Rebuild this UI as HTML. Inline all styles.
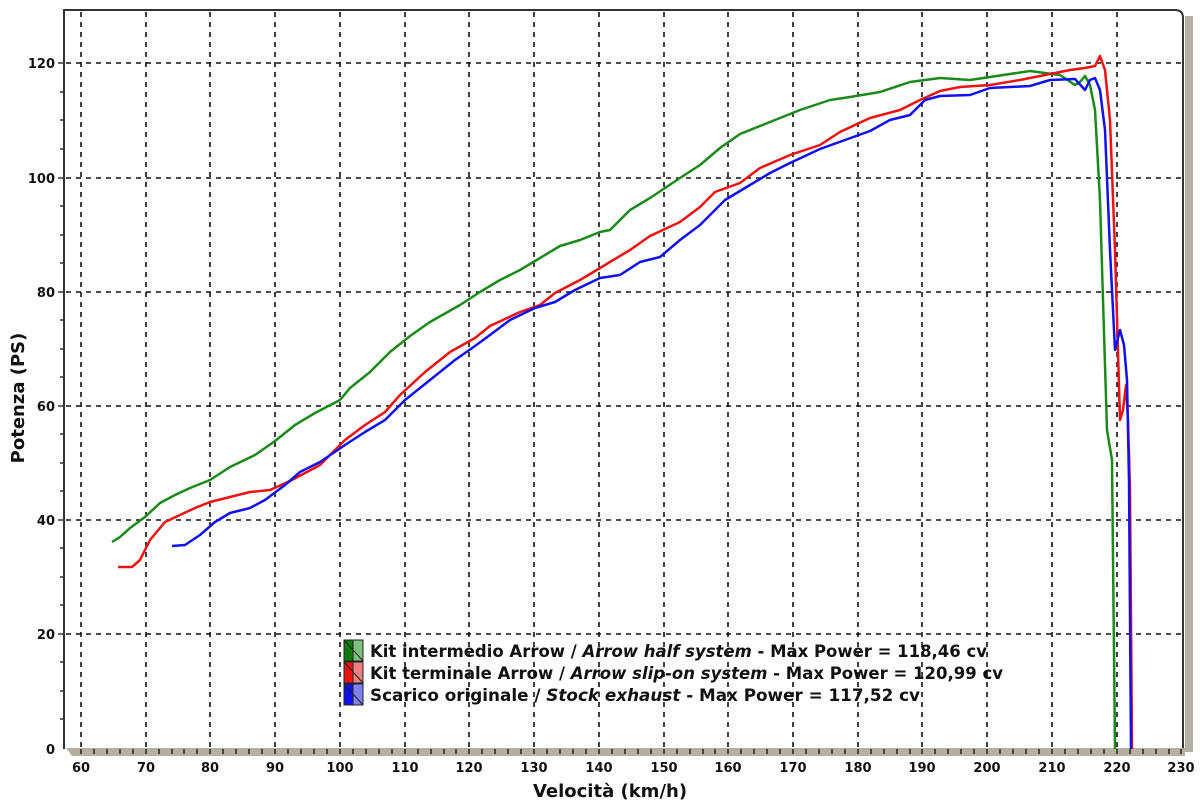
<!DOCTYPE html>
<html><head><meta charset="utf-8"><style>
body{margin:0;background:#fff;}
svg{display:block;font-family:"DejaVu Sans","Liberation Sans",sans-serif;}
</style></head><body>
<svg width="1200" height="807" viewBox="0 0 1200 807">
<rect x="1185" y="16" width="8" height="736" fill="#b5b0a3"/>
<path d="M64 749 L64 10 L1175 10 Q1183 10 1183 18 L1183 749" fill="#fff" stroke="#333" stroke-width="2"/>
<polygon points="66,748 1185,748 1185,756 72,756" fill="#b5b0a3"/>
<g stroke="#111" stroke-width="1.6" stroke-dasharray="5,5" fill="none">
<line x1="81" y1="12" x2="81" y2="748"/><line x1="146" y1="12" x2="146" y2="748"/><line x1="210" y1="12" x2="210" y2="748"/><line x1="275" y1="12" x2="275" y2="748"/><line x1="340" y1="12" x2="340" y2="748"/><line x1="405" y1="12" x2="405" y2="748"/><line x1="469" y1="12" x2="469" y2="748"/><line x1="534" y1="12" x2="534" y2="748"/><line x1="599" y1="12" x2="599" y2="748"/><line x1="664" y1="12" x2="664" y2="748"/><line x1="728" y1="12" x2="728" y2="748"/><line x1="793" y1="12" x2="793" y2="748"/><line x1="858" y1="12" x2="858" y2="748"/><line x1="922" y1="12" x2="922" y2="748"/><line x1="987" y1="12" x2="987" y2="748"/><line x1="1052" y1="12" x2="1052" y2="748"/><line x1="1117" y1="12" x2="1117" y2="748"/>
<line x1="66" y1="63" x2="1182" y2="63"/><line x1="66" y1="178" x2="1182" y2="178"/><line x1="66" y1="292" x2="1182" y2="292"/><line x1="66" y1="406" x2="1182" y2="406"/><line x1="66" y1="520" x2="1182" y2="520"/><line x1="66" y1="634" x2="1182" y2="634"/>
</g>
<g stroke="#333" stroke-width="1.5">
<line x1="58" y1="63" x2="64" y2="63"/><line x1="58" y1="178" x2="64" y2="178"/><line x1="58" y1="292" x2="64" y2="292"/><line x1="58" y1="406" x2="64" y2="406"/><line x1="58" y1="520" x2="64" y2="520"/><line x1="58" y1="634" x2="64" y2="634"/>
<line x1="60" y1="92" x2="64" y2="92"/><line x1="60" y1="120" x2="64" y2="120"/><line x1="60" y1="149" x2="64" y2="149"/><line x1="60" y1="206" x2="64" y2="206"/><line x1="60" y1="235" x2="64" y2="235"/><line x1="60" y1="263" x2="64" y2="263"/><line x1="60" y1="320" x2="64" y2="320"/><line x1="60" y1="349" x2="64" y2="349"/><line x1="60" y1="377" x2="64" y2="377"/><line x1="60" y1="434" x2="64" y2="434"/><line x1="60" y1="463" x2="64" y2="463"/><line x1="60" y1="491" x2="64" y2="491"/><line x1="60" y1="548" x2="64" y2="548"/><line x1="60" y1="577" x2="64" y2="577"/><line x1="60" y1="605" x2="64" y2="605"/><line x1="60" y1="662" x2="64" y2="662"/><line x1="60" y1="691" x2="64" y2="691"/><line x1="60" y1="719" x2="64" y2="719"/>
</g>
<g font-size="13" font-weight="bold" fill="#111" text-anchor="end">
<text x="55" y="68">120</text><text x="55" y="183">100</text><text x="55" y="297">80</text><text x="55" y="411">60</text><text x="55" y="525">40</text><text x="55" y="639">20</text><text x="55" y="754">0</text>
</g>
<g font-size="13" font-weight="bold" fill="#111" text-anchor="middle">
<text x="81" y="772">60</text><text x="146" y="772">70</text><text x="210" y="772">80</text><text x="275" y="772">90</text><text x="340" y="772">100</text><text x="405" y="772">110</text><text x="469" y="772">120</text><text x="534" y="772">130</text><text x="599" y="772">140</text><text x="664" y="772">150</text><text x="728" y="772">160</text><text x="793" y="772">170</text><text x="858" y="772">180</text><text x="922" y="772">190</text><text x="987" y="772">200</text><text x="1052" y="772">210</text><text x="1117" y="772">220</text><text x="1181" y="772">230</text>
</g>
<text x="610" y="797" font-size="18" font-weight="bold" text-anchor="middle" fill="#111">Velocità (km/h)</text>
<text transform="translate(24,398) rotate(-90)" font-size="18" font-weight="bold" text-anchor="middle" fill="#111">Potenza (PS)</text>
<g fill="none" stroke-width="2.5" stroke-linejoin="round">
<polyline stroke="#1a8a1a" points="112,542 120,537 130,528 145,517 160,503 175,495 190,488 210,480 230,467 255,455 275,441 295,425 315,413 340,400 350,388 370,372 390,352 410,336 430,322 460,305 480,292 500,280 520,270 540,258 560,246 580,240 600,232 610,230 630,210 650,198 680,178 700,165 720,148 740,134 770,122 800,110 830,100 850,97 880,92 910,82 940,78 970,80 990,77 1030,71 1060,75 1075,85 1080,82 1085,76 1090,85 1095,110 1100,200 1103,300 1107,430 1112,460 1115,749"/>
<polyline stroke="#ee1111" points="118,567 132,567 140,560 150,540 165,522 180,515 195,508 210,502 230,497 250,492 270,490 290,481 320,465 345,440 365,425 385,412 400,395 425,372 450,352 475,338 490,326 520,312 540,305 555,293 580,280 600,268 630,250 650,236 680,222 700,207 715,192 740,183 760,168 790,155 820,145 840,132 870,118 900,110 920,100 940,91 960,87 990,85 1020,80 1050,74 1070,70 1085,68 1095,66 1100,56 1105,70 1110,120 1115,250 1120,420 1123,410 1126,385 1128,420 1130,490 1132,749"/>
<polyline stroke="#1111ee" points="172,546 185,545 200,535 215,522 230,513 250,508 265,500 285,485 300,472 320,462 345,445 365,432 385,420 405,400 430,380 455,360 475,346 490,335 510,320 535,308 555,302 575,290 600,278 620,275 640,262 660,257 680,240 700,225 725,200 745,188 770,173 790,163 820,149 845,140 870,131 890,120 910,115 925,100 940,96 970,95 990,88 1030,86 1050,80 1075,79 1085,90 1090,80 1095,78 1100,90 1105,130 1110,250 1115,350 1120,330 1124,345 1127,380 1129,480 1131,749"/>
</g>
<g stroke="#222" stroke-width="1">
<rect x="344" y="640" width="9" height="21" fill="#0a7a0a"/><rect x="353" y="640" width="10" height="21" fill="#7fc07f"/><line x1="344" y1="640" x2="363" y2="661"/>
<rect x="344" y="662" width="9" height="21" fill="#ee1111"/><rect x="353" y="662" width="10" height="21" fill="#f08080"/><line x1="344" y1="662" x2="363" y2="683"/>
<rect x="344" y="684" width="9" height="21" fill="#1111ee"/><rect x="353" y="684" width="10" height="21" fill="#8080f0"/><line x1="344" y1="684" x2="363" y2="705"/>
</g>
<g font-size="17" font-weight="bold" fill="#111">
<text x="370" y="657" textLength="617" lengthAdjust="spacingAndGlyphs">Kit intermedio Arrow / <tspan font-style="italic">Arrow half system</tspan> - Max Power = 118,46 cv</text>
<text x="370" y="679" textLength="633" lengthAdjust="spacingAndGlyphs">Kit terminale Arrow / <tspan font-style="italic">Arrow slip-on system</tspan> - Max Power = 120,99 cv</text>
<text x="370" y="701" textLength="550" lengthAdjust="spacingAndGlyphs">Scarico originale / <tspan font-style="italic">Stock exhaust</tspan> - Max Power = 117,52 cv</text>
</g>
<g stroke="#222" stroke-width="1.5">
<path d="M81 749v5M94 749v5M107 749v5M120 749v5M133 749v5M146 749v5M159 749v5M172 749v5M184 749v5M197 749v5M210 749v5M223 749v5M236 749v5M249 749v5M262 749v5M275 749v5M288 749v5M301 749v5M314 749v5M327 749v5M340 749v5M353 749v5M366 749v5M379 749v5M392 749v5M405 749v5M418 749v5M431 749v5M444 749v5M456 749v5M469 749v5M482 749v5M495 749v5M508 749v5M521 749v5M534 749v5M547 749v5M560 749v5M573 749v5M586 749v5M599 749v5M612 749v5M625 749v5M638 749v5M651 749v5M664 749v5M677 749v5M690 749v5M703 749v5M715 749v5M728 749v5M741 749v5M754 749v5M767 749v5M780 749v5M793 749v5M806 749v5M819 749v5M832 749v5M845 749v5M858 749v5M871 749v5M884 749v5M897 749v5M910 749v5M922 749v5M935 749v5M948 749v5M961 749v5M974 749v5M987 749v5M1000 749v5M1013 749v5M1026 749v5M1039 749v5M1052 749v5M1065 749v5M1078 749v5M1091 749v5M1104 749v5M1117 749v5M1130 749v5M1143 749v5M1156 749v5M1169 749v5M1181 749v5"/>
</g>
</svg>
</body></html>
